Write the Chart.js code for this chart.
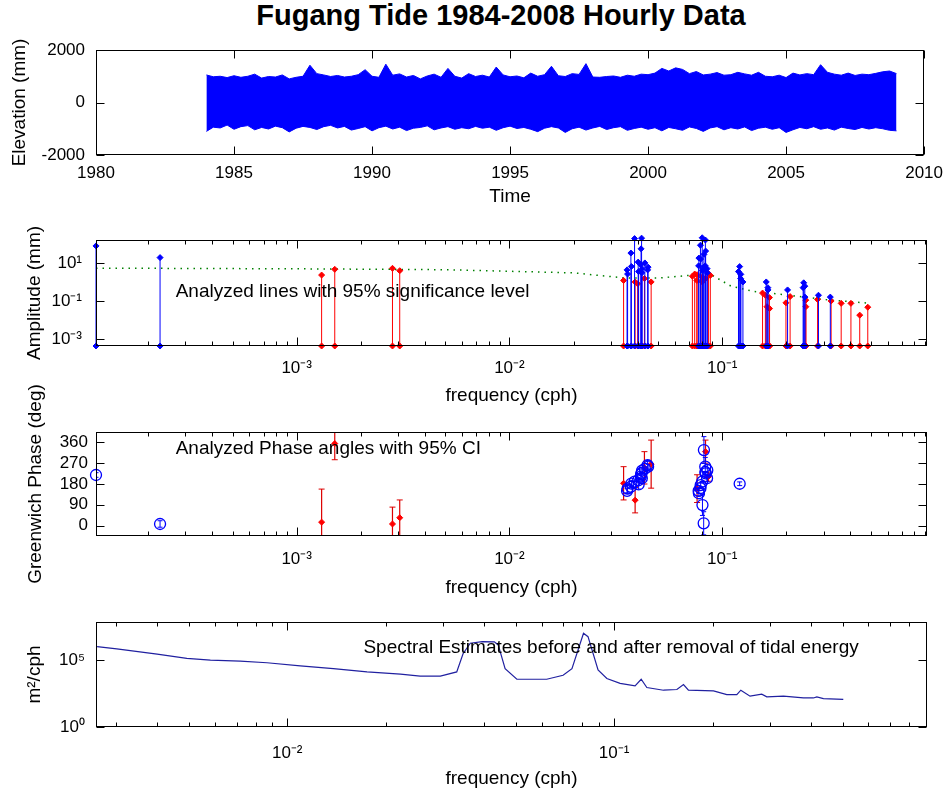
<!DOCTYPE html>
<html>
<head>
<meta charset="utf-8">
<title>Fugang Tide 1984-2008 Hourly Data</title>
<script src="https://cdn.jsdelivr.net/npm/chart.js@4.4.1/dist/chart.umd.min.js"></script>
<style>
  html, body { margin: 0; padding: 0; background: #fff; }
  #fig { position: relative; width: 951px; height: 794px; overflow: hidden; }
  #fig canvas { position: absolute; left: 0; }
  #figTitle {
    position: absolute; left: 0; top: -2px; width: 1002px; text-align: center;
    font: bold 29px "Liberation Sans", Arial, sans-serif; line-height: 34px; color: #000;
  }
</style>
</head>
<body>
<div id="fig">
  <div id="figTitle">Fugang Tide 1984-2008 Hourly Data</div>
  <canvas id="elevChart" width="951" height="215" style="top:0px"></canvas>
  <canvas id="ampChart" width="951" height="200" style="top:215px"></canvas>
  <canvas id="phaseChart" width="951" height="230" style="top:370px"></canvas>
  <canvas id="specChart" width="951" height="194" style="top:600px"></canvas>
</div>
<script>
// ---- panel 1: hourly elevation, drawn as its upper / lower envelope (mm)
const elevYears = [
  1984.00, 1984.25, 1984.50, 1984.75, 1985.00, 1985.25, 1985.50, 1985.75, 1986.00, 1986.25,
  1986.50, 1986.75, 1987.00, 1987.25, 1987.50, 1987.75, 1988.00, 1988.25, 1988.50, 1988.75,
  1989.00, 1989.25, 1989.50, 1989.75, 1990.00, 1990.25, 1990.50, 1990.75, 1991.00, 1991.25,
  1991.50, 1991.75, 1992.00, 1992.25, 1992.50, 1992.75, 1993.00, 1993.25, 1993.50, 1993.75,
  1994.00, 1994.25, 1994.50, 1994.75, 1995.00, 1995.25, 1995.50, 1995.75, 1996.00, 1996.25,
  1996.50, 1996.75, 1997.00, 1997.25, 1997.50, 1997.75, 1998.00, 1998.25, 1998.50, 1998.75,
  1999.00, 1999.25, 1999.50, 1999.75, 2000.00, 2000.25, 2000.50, 2000.75, 2001.00, 2001.25,
  2001.50, 2001.75, 2002.00, 2002.25, 2002.50, 2002.75, 2003.00, 2003.25, 2003.50, 2003.75,
  2004.00, 2004.25, 2004.50, 2004.75, 2005.00, 2005.25, 2005.50, 2005.75, 2006.00, 2006.25,
  2006.50, 2006.75, 2007.00, 2007.25, 2007.50, 2007.75, 2008.00, 2008.25, 2008.50, 2008.75,
  2009.00
];
const elevHigh = [
  1050, 980, 1000, 950, 1020, 960, 1000, 1080, 930, 990,
  970, 1050, 900, 960, 1000, 1420, 1100, 1050, 990, 1030,
  970, 1000, 1060, 1250, 1000, 960, 1460, 1040, 1090, 970,
  1030, 900, 1010, 1080, 960, 1300, 1000, 930, 1100, 990,
  1040, 970, 1350, 1050, 980, 1010, 940, 1120, 1000, 1060,
  1380, 1020, 990, 1100, 1070, 1480, 970, 960, 990, 1010,
  960, 1040, 1000, 1080, 1060, 1120, 1300, 1200, 1320, 1260,
  1100, 1180, 1050, 1080, 1140, 1040, 1060, 1150, 1090, 1040,
  1150, 1000, 980, 1040, 950, 1120, 1050, 1100, 1060, 1440,
  1150, 1080, 1040, 1120, 1030, 1080, 1060, 1110, 1170, 1200,
  1100
];
const elevLow = [
  -1100, -940, -970, -860, -1020, -920, -880, -1040, -950, -1010,
  -900, -960, -1120, -980, -910, -950, -1030, -920, -870, -970,
  -910, -1050, -990, -920, -1080, -960, -900, -1010, -940, -1070,
  -980, -950, -890, -1040, -970, -920, -1020, -960, -1000, -910,
  -980, -940, -1060, -960, -900, -990, -950, -1020, -1110, -980,
  -920, -970, -1140, -1000, -940, -1050, -970, -910, -1030, -960,
  -920, -1060, -990, -940, -1020, -960, -1080, -950, -1000, -1060,
  -930, -990, -1100, -970, -920, -1040, -960, -1010, -930, -1070,
  -980, -940, -1020, -960, -1140, -1040, -950, -1000, -920, -1020,
  -970, -1050, -940, -990, -1030, -950, -1010, -960, -1000, -1060,
  -1080
];
const yearTicks = [1980, 1985, 1990, 1995, 2000, 2005, 2010];
const elevTicks = [-2000, 0, 2000];

// ---- panel 2: amplitudes (mm) of analysed constituents, frequency in cph
const sigFreq = [
  0.000114, 0.000228,
  0.03571, 0.03591, 0.03722, 0.03742, 0.03873, 0.04027, 0.04047, 0.04144, 0.04155, 0.04178,
  0.04189, 0.04201, 0.04329, 0.04462, 0.04483,
  0.07748, 0.07769, 0.07900, 0.07920, 0.08051, 0.08074, 0.08182, 0.08202, 0.08322, 0.08333,
  0.08356, 0.08485, 0.08507,
  0.11924, 0.12077, 0.12206, 0.12229, 0.12511,
  0.16102, 0.16384, 0.16407, 0.20280, 0.24002, 0.24153, 0.24436, 0.24469, 0.28331, 0.32205
];
const sigAmp = [
  78, 19,
  4.3, 2.6, 33, 6.5, 190, 11, 3.5, 8, 55, 200,
  3, 5, 10, 4.3, 6,
  7, 18, 85, 16, 210, 4, 6, 28, 7, 160,
  42, 5, 3,
  3.5, 6.4, 1.5, 2.5, 1.0,
  1.0, 0.5, 0.38, 0.38, 0.5, 0.9, 0.6, 0.16, 0.2, 0.16
];
const insigFreq = [
  0.00131, 0.00151, 0.00282, 0.00305,
  0.03439, 0.03896, 0.04004, 0.04309, 0.04634,
  0.07240, 0.07424, 0.07597, 0.07618, 0.08048, 0.08054, 0.08345, 0.08615, 0.08790,
  0.15470, 0.15951, 0.16233, 0.16667, 0.16689,
  0.19930, 0.20844, 0.24700, 0.24720, 0.28060, 0.32490, 0.36230, 0.40260, 0.44280, 0.48310
];
const insigAmp = [
  2.3, 4.6, 5.2, 3.9,
  1.2, 1.0, 0.8, 1.5, 1.0,
  2.0, 2.6, 1.2, 2.4, 1.8, 1.0, 1.5, 2.8, 2.2,
  0.26, 0.2, 0.05, 0.15, 0.04,
  0.08, 0.17, 0.11, 0.05, 0.12, 0.1, 0.075, 0.075, 0.018, 0.047
];
const sigLevelFreq = [0.000114, 0.001, 0.005, 0.02, 0.035, 0.05, 0.07, 0.08, 0.09, 0.11, 0.14, 0.2, 0.3, 0.49];
const sigLevelAmp = [5.3, 4.9, 4.4, 3.0, 1.6, 1.6, 2.2, 2.9, 2.2, 0.6, 0.32, 0.21, 0.12, 0.076];
const freqTicks = [1e-3, 1e-2, 1e-1];
const ampTicks = [1e-3, 1e-1, 1e1];

// ---- panel 3: Greenwich phase (deg) with 95% confidence half-widths
const phaseSigFreq = [
  0.000114, 0.000228,
  0.03571, 0.03591, 0.03722, 0.03742, 0.03873, 0.04027, 0.04047, 0.04144, 0.04155, 0.04178,
  0.04189, 0.04201, 0.04329, 0.04462, 0.04483,
  0.07748, 0.07769, 0.07900, 0.07920, 0.08051, 0.08074, 0.08182, 0.08202, 0.08322, 0.08333,
  0.08356, 0.08485, 0.08507,
  0.12077
];
const phaseSig = [
  219, 7,
  150, 160, 168, 182, 190, 196, 178, 212, 222, 228,
  205, 238, 246, 262, 255,
  150, 140, 162, 175, 190, 89, 10, 327, 255, 232,
  226, 205, 240,
  181
];
const phaseSigErr = [
  10, 14,
  12, 18, 4, 14, 1, 8, 20, 14, 2, 1,
  22, 14, 8, 20, 10,
  10, 12, 2, 10, 1, 45, 50, 58, 40, 2,
  6, 15, 25,
  8
];
const phaseInsigFreq = [0.00131, 0.00151, 0.00282, 0.00305, 0.03439, 0.03896, 0.04309, 0.04634, 0.07618, 0.08345, 0.08615];
const phaseInsig = [15, 355, 7, 34, 183, 110, 250, 266, 160, 320, 212];
const phaseInsigErr = [143, 70, 73, 77, 72, 55, 70, 104, 60, 50, 20];
const phaseTicks = [0, 90, 180, 270, 360];

// ---- panel 4: spectral estimate (m^2/cph)
const specFreq = [
  0.00262, 0.00301, 0.0040, 0.00493, 0.00582, 0.00718, 0.00867, 0.01096, 0.01384, 0.01754,
  0.0222, 0.0255, 0.0294, 0.0330, 0.0345, 0.0363, 0.0395, 0.0430, 0.0442, 0.0464,
  0.0504, 0.0622, 0.0698, 0.0743, 0.0806, 0.0832, 0.0893, 0.0950, 0.1043, 0.1159,
  0.1210, 0.1259, 0.1416, 0.1556, 0.1630, 0.1688, 0.2013, 0.2212, 0.2373, 0.2441,
  0.2605, 0.2829, 0.2931, 0.3296, 0.3795, 0.4070, 0.4169, 0.4368, 0.5024
];
const specPow = [
  1.0e6, 6.8e5, 2.8e5, 1.35e5, 1.0e5, 8.3e4, 6.3e4, 3.7e4, 2.3e4, 1.3e4,
  8.9e3, 6.3e3, 6.3e3, 1.3e4, 3.0e5, 1.8e6, 2.4e6, 2.3e6, 1.35e6, 2.3e4,
  3.7e3, 3.7e3, 7.4e3, 2.3e4, 1.0e7, 5.6e6, 1.8e4, 4.2e3, 1.8e3, 1.2e3,
  3.7e3, 890, 560, 630, 1.5e3, 560, 500, 263, 263, 560,
  200, 282, 178, 200, 148, 148, 178, 132, 117
];
const specFreqTicks = [1e-2, 1e-1];
const specPowTicks = [1, 1e5];

const BLUE = '#0000ff';
const RED = '#ff0000';
const NAVY = '#2020a0';
const FREQ_MIN = 1.14e-4;
const FREQ_MAX = 0.917;

Chart.defaults.font.family = '"Liberation Sans", Arial, sans-serif';
Chart.defaults.color = '#000';

const SUP = {'-': '\u207b', '0': '\u2070', '1': '\u00b9', '2': '\u00b2', '3': '\u00b3', '4': '\u2074',
             '5': '\u2075', '6': '\u2076', '7': '\u2077', '8': '\u2078', '9': '\u2079'};
const pow10Label = v => '10' + String(Math.round(Math.log10(v))).split('').map(c => SUP[c]).join('');

// matlab look: full box, inward ticks on all four sides, minor ticks on log x
const axesBox = {
  id: 'axesBox',
  afterDatasetsDraw(chart, args, opts) {
    const {ctx, chartArea: a} = chart;
    const xs = chart.scales.x, ys = chart.scales.y;
    const L = Math.round(a.left) + 0.5, R = Math.round(a.right) - 0.5;
    const T = Math.round(a.top) + 0.5, B = Math.round(a.bottom) - 0.5;
    ctx.save();
    ctx.strokeStyle = '#000';
    ctx.lineWidth = 1;
    ctx.beginPath();
    const vTick = (v, len) => {
      const p = Math.round(xs.getPixelForValue(v)) + 0.5;
      ctx.moveTo(p, B); ctx.lineTo(p, B - len);
      ctx.moveTo(p, T); ctx.lineTo(p, T + len);
    };
    const hTick = (v, len) => {
      const p = Math.round(ys.getPixelForValue(v)) + 0.5;
      ctx.moveTo(L, p); ctx.lineTo(L + len, p);
      ctx.moveTo(R, p); ctx.lineTo(R - len, p);
    };
    xs.ticks.forEach(t => vTick(t.value, opts.major));
    ys.ticks.forEach(t => hTick(t.value, opts.major));
    if (xs.type === 'logarithmic') {
      for (let e = Math.floor(Math.log10(xs.min)); e <= Math.ceil(Math.log10(xs.max)); e++) {
        for (let m = 2; m <= 9; m++) {
          const v = m * Math.pow(10, e);
          if (v > xs.min && v < xs.max) vTick(v, opts.minor);
        }
      }
    }
    ctx.stroke();
    ctx.strokeRect(L, T, R - L, B - T);
    // in-axes annotation text, anchored in data coordinates
    ctx.fillStyle = '#000';
    ctx.font = '19px "Liberation Sans", Arial, sans-serif';
    ctx.textAlign = 'left';
    ctx.textBaseline = 'alphabetic';
    (opts.notes || []).forEach(n => {
      ctx.fillText(n.text, xs.getPixelForValue(n.x), ys.getPixelForValue(n.y));
    });
    ctx.restore();
  }
};
Chart.register(axesBox);

function xAxis(c) {
  return {
    type: c.type, min: c.min, max: c.max,
    grid: {display: false, drawTicks: false},
    border: {display: false},
    ticks: {color: '#000', font: {size: 17}, padding: c.tickPad, maxRotation: 0, autoSkip: false, callback: c.label},
    title: {display: true, text: c.title, color: '#000', font: {size: 19}, padding: {top: 0, bottom: c.titlePad}},
    afterBuildTicks: s => { s.ticks = c.ticks.map(v => ({value: v})); },
    afterFit: s => { s.height = c.size; }
  };
}

function yAxis(c) {
  return {
    type: c.type, min: c.min, max: c.max,
    grid: {display: false, drawTicks: false},
    border: {display: false},
    ticks: {color: '#000', font: {size: 17}, padding: c.tickPad, autoSkip: false, callback: c.label},
    title: {display: true, text: c.title, color: '#000', font: {size: 19}, padding: {top: c.titlePad, bottom: 0}},
    afterBuildTicks: s => { s.ticks = c.ticks.map(v => ({value: v})); },
    afterFit: s => { s.width = 96; }
  };
}

function baseOptions(padTop, scales, notes) {
  return {
    responsive: false,
    animation: false,
    events: [],
    layout: {padding: {left: 0, right: 24, top: padTop, bottom: 0}},
    plugins: {
      legend: {display: false},
      tooltip: {enabled: false},
      axesBox: {major: 8, minor: 4, notes: notes || []}
    },
    scales: scales
  };
}

// stems: base -> value, then a gap
function stems(freqs, vals, base) {
  const pts = [];
  freqs.forEach((f, i) => { pts.push({x: f, y: base}, {x: f, y: vals[i]}, {x: f, y: null}); });
  return pts;
}
function errorBars(freqs, vals, errs) {
  const pts = [];
  freqs.forEach((f, i) => { pts.push({x: f, y: vals[i] - errs[i]}, {x: f, y: vals[i] + errs[i]}, {x: f, y: null}); });
  return pts;
}
const pairs = (xs, ys) => xs.map((x, i) => ({x: x, y: ys[i]}));

// ---- panel 1
new Chart(document.getElementById('elevChart'), {
  type: 'line',
  data: {
    datasets: [
      {data: pairs(elevYears, elevHigh), borderColor: BLUE, backgroundColor: BLUE, borderWidth: 1, pointRadius: 0, fill: '+1'},
      {data: pairs(elevYears, elevLow), borderColor: BLUE, backgroundColor: BLUE, borderWidth: 1, pointRadius: 0, fill: false}
    ]
  },
  options: baseOptions(50, {
    x: xAxis({type: 'linear', min: 1980, max: 2010, ticks: yearTicks, label: v => String(v),
              title: 'Time', tickPad: 8, titlePad: 7, size: 60}),
    y: yAxis({type: 'linear', min: -2000, max: 2000, ticks: elevTicks, label: v => String(v),
              title: 'Elevation (mm)', tickPad: 11, titlePad: 8})
  })
});

// ---- panel 2
const AMP_MIN = 4.3e-4;
new Chart(document.getElementById('ampChart'), {
  type: 'line',
  data: {
    datasets: [
      {data: stems(sigFreq, sigAmp, AMP_MIN), borderColor: BLUE, backgroundColor: BLUE, borderWidth: 1,
       pointStyle: 'rectRot', pointRadius: 3, pointBorderWidth: 1, clip: 6},
      {data: stems(insigFreq, insigAmp, AMP_MIN), borderColor: RED, backgroundColor: RED, borderWidth: 1,
       pointStyle: 'rectRot', pointRadius: 3, pointBorderWidth: 1, clip: 6},
      {data: pairs(sigLevelFreq, sigLevelAmp), borderColor: '#008000', borderWidth: 1.5, borderDash: [1.5, 5],
       pointRadius: 0}
    ]
  },
  options: baseOptions(25, {
    x: xAxis({type: 'logarithmic', min: FREQ_MIN, max: FREQ_MAX, ticks: freqTicks, label: pow10Label,
              title: 'frequency (cph)', tickPad: 12, titlePad: 8, size: 69}),
    y: yAxis({type: 'logarithmic', min: AMP_MIN, max: 160, ticks: ampTicks, label: pow10Label,
              title: 'Amplitude (mm)', tickPad: 14, titlePad: 23})
  }, [{text: 'Analyzed lines with 95% significance level', x: 2.7e-4, y: 0.168}])
});

// ---- panel 3
new Chart(document.getElementById('phaseChart'), {
  type: 'line',
  data: {
    datasets: [
      {data: pairs(phaseSigFreq, phaseSig), showLine: false, pointStyle: 'circle', pointRadius: 5.5,
       pointBorderColor: BLUE, pointBackgroundColor: 'rgba(0,0,0,0)', pointBorderWidth: 1.3, clip: 8},
      {data: errorBars(phaseSigFreq, phaseSig, phaseSigErr), borderColor: BLUE, borderWidth: 1,
       pointStyle: 'line', pointRadius: 2.5, pointBorderColor: BLUE, pointBorderWidth: 1},
      {data: pairs(phaseInsigFreq, phaseInsig), showLine: false, pointStyle: 'rectRot', pointRadius: 3,
       pointBorderColor: RED, pointBackgroundColor: RED, pointBorderWidth: 1},
      {data: errorBars(phaseInsigFreq, phaseInsig, phaseInsigErr), borderColor: '#dd0000', borderWidth: 1.2,
       pointStyle: 'line', pointRadius: 3, pointBorderColor: '#dd0000', pointBorderWidth: 1}
    ]
  },
  options: baseOptions(62, {
    x: xAxis({type: 'logarithmic', min: FREQ_MIN, max: FREQ_MAX, ticks: freqTicks, label: pow10Label,
              title: 'frequency (cph)', tickPad: 13, titlePad: 1, size: 64}),
    y: yAxis({type: 'linear', min: -45, max: 405, ticks: phaseTicks, label: v => String(v),
              title: 'Greenwich Phase (deg)', tickPad: 8, titlePad: 24})
  }, [{text: 'Analyzed Phase angles with 95% CI', x: 2.7e-4, y: 308}])
});

// ---- panel 4
new Chart(document.getElementById('specChart'), {
  type: 'line',
  data: {
    datasets: [
      {data: pairs(specFreq, specPow), borderColor: NAVY, borderWidth: 1.2, pointRadius: 0}
    ]
  },
  options: baseOptions(22, {
    x: xAxis({type: 'logarithmic', min: 0.0026, max: 0.906, ticks: specFreqTicks, label: pow10Label,
              title: 'frequency (cph)', tickPad: 16, titlePad: 4, size: 67}),
    y: yAxis({type: 'logarithmic', min: 1, max: 7e7, ticks: specPowTicks, label: pow10Label,
              title: 'm\u00b2/cph', tickPad: 11, titlePad: 23})
  }, [{text: 'Spectral Estimates before and after removal of tidal energy', x: 0.0171, y: 3.2e5}])
});
</script>
</body>
</html>
